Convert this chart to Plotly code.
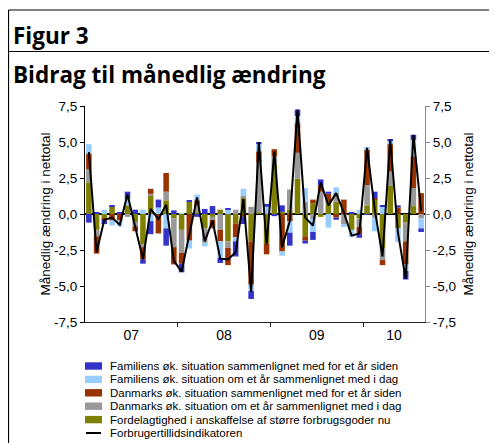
import plotly.graph_objects as go

# ---------------- data ----------------
months = [f"{y}-{m:02d}" for y in range(2007, 2011) for m in range(1, 13)][:44]
year_labels = ["07", "08", "09", "10"]

series_names = [
    "Familiens øk. situation sammenlignet med for et år siden",
    "Familiens øk. situation om et år sammenlignet med i dag",
    "Danmarks øk. situation sammenlignet med for et år siden",
    "Danmarks øk. situation om et år sammenlignet med i dag",
    "Fordelagtighed i anskaffelse af større forbrugsgoder nu",
]
line_name = "Forbrugertillidsindikatoren"

fam_past = [-0.6, 0.1, -0.3, 0.1, 0.1, 0.5, 0.3, -0.3, -0.9, 0.55, -1.2, 0.25,
            -0.6, 0.1, -0.2, 0.35, 0.55, -0.35, 0.1, -1.05, -0.5, -0.55, 0.15, 0.2,
            -0.15, 0.45, -0.9, 0.45, -0.2, -0.55, 0.4, 0.15, -0.15, 0.0, 0.1, -0.25,
            -0.05, 0.45, 0.1, 0.1, 0.15, -0.6, 0.35, -0.25]
fam_future = [0.65, 0.0, 0.3, -0.35, -0.4, 0.45, 0.0, 0.3, -0.5, 0.45, -1.0, 0.0,
              0.05, -0.55, 0.4, -0.25, 0.0, -1.15, 0.3, -0.3, 0.5, -0.45, 0.5, 0.5,
              0.0, -0.3, -0.8, 0.5, 0.95, -0.9, 0.0, -0.95, 0.4, -0.2, -0.5, 0.3,
              0.2, -0.9, 0.5, 0.25, -0.95, -0.45, 1.15, -0.7]
dk_past = [1.1, -1.2, -0.1, -0.45, -0.45, 0.0, -0.35, -0.85, 0.35, -1.35, 1.3, -1.2,
           -0.75, -1.85, 0.35, 0.0, -0.6, -0.8, -1.2, -0.95, -0.2, -3.0, 0.75, -0.75,
           0.5, -2.6, -0.5, 2.05, -0.3, 0.25, 0.45, 0.6, -0.25, 1.0, 0.0, -0.5,
           2.45, 0.1, -0.35, 1.9, 0.45, -1.6, 2.2, 1.45]
dk_future = [0.9, -0.45, 0.0, 0.0, 0.0, -0.2, -0.3, -0.2, 0.15, 0.0, 0.6, -2.0,
             -1.6, 0.0, 0.5, -1.0, -0.2, -1.1, -0.45, 0.3, 0.15, 0.5, 3.5, 0.0,
             0.6, 0.0, 1.4, 1.8, 0.85, -0.35, 1.55, 0.1, 0.6, -0.7, 0.0, -0.6,
             1.4, -0.3, -0.8, 1.0, 0.0, -1.3, 1.25, -0.3]
purchase = [2.2, -1.1, -0.3, 0.5, 0.0, 0.6, -0.55, -2.1, 1.25, 0.0, 0.95, -0.3,
            -1.1, 0.85, 0.1, -1.0, -0.2, 0.3, -1.9, -0.65, 1.1, -1.9, 0.1, -2.05,
            3.4, 0.15, 0.3, 2.45, -1.55, 0.75, -0.2, 0.7, 0.85, 0.0, -1.1, -0.3,
            0.6, 1.0, -2.4, 1.95, -1.0, -0.6, 0.55, 0.0]
indicator = [4.3, -2.65, -0.4, -0.25, -0.75, 1.35, -0.9, -3.15, 0.35, -0.35, 0.65, -3.25,
             -4.0, -1.45, 1.15, -1.9, -0.45, -3.1, -3.15, -2.65, 1.05, -5.4, 5.0, -2.1,
             4.35, -2.3, -0.5, 7.25, -0.25, -0.8, 2.2, 0.6, 1.45, 0.1, -1.5, -1.35,
             4.6, 0.3, -2.95, 5.15, -1.3, -4.5, 5.5, 0.2]

y_tickvals = [-7.5, -5.0, -2.5, 0.0, 2.5, 5.0, 7.5]
y_ticktext = ["-7,5", "-5,0", "-2,5", "0,0", "2,5", "5,0", "7,5"]

colors = ["#3333cc", "#99ccff", "#993300", "#999999", "#808000"]

# ---------------- figure ----------------
# the page body adds an 8px offset, so the figure is drawn 8px smaller and
# every target position (in screenshot pixels) is shifted by OFF
OFF = 8
SW, SH = 497, 443
W, H = SW - OFF, SH - OFF
PL, PR, PT, PB = 85, 425, 106, 322  # plot area in screenshot pixels
ML, MR, MT, MB = PL - OFF, SW - PR, PT - OFF, SH - PB
PW, PH = W - ML - MR, H - MT - MB


def px_x(p):
    return (p - PL) / PW


def px_y(p):
    return (PB - p) / PH


x = list(range(len(months)))
years = [m[:4] for m in months]
uniq_years = sorted(set(years))
year_centers = []
year_bounds = []
for yv in uniq_years:
    idx = [i for i, v in enumerate(years) if v == yv]
    year_centers.append((idx[0] + idx[-1]) / 2)
    if idx[0] > 0:
        year_bounds.append(idx[0] - 0.5)

fig = go.Figure()
series_vals = [fam_past, fam_future, dk_past, dk_future, purchase]
for k in [4, 3, 2, 1, 0]:
    fig.add_trace(go.Bar(x=x, y=series_vals[k], name=series_names[k],
                         marker=dict(color=colors[k], line=dict(width=0)),
                         width=0.72, showlegend=False))
fig.add_trace(go.Scatter(x=x, y=indicator, name=line_name, mode="lines",
                         line=dict(color="black", width=2), yaxis="y2",
                         showlegend=False))

tickfont = dict(family="Liberation Sans, Arial, sans-serif", size=13.5, color="black")
titlefont = dict(family="Liberation Sans, Arial, sans-serif", size=13.5, color="black")

fig.update_layout(
    width=W, height=H,
    margin=dict(l=ML, r=MR, t=MT, b=MB),
    paper_bgcolor="white", plot_bgcolor="white",
    barmode="relative",
    xaxis=dict(range=[-0.5, len(months) - 0.5], tickmode="array",
               tickvals=year_centers, ticktext=year_labels, ticks="",
               showline=True, linecolor="#222", linewidth=1, showgrid=False,
               zeroline=False, tickfont=dict(family=tickfont["family"], size=14, color="black"),
               minor=dict(tickmode="array", tickvals=year_bounds, ticks="outside",
                          ticklen=4, tickcolor="#222", tickwidth=1, showgrid=False)),
    yaxis=dict(range=[-7.5, 7.5], tickmode="array", tickvals=y_tickvals,
               ticktext=y_ticktext, ticks="outside", ticklen=4, tickcolor="black",
               showline=True, linecolor="black", linewidth=1, showgrid=False,
               zeroline=True, zerolinecolor="black", zerolinewidth=1.5,
               tickfont=tickfont,
               title=dict(text="Månedlig ændring i nettotal", font=titlefont, standoff=0)),
    yaxis2=dict(range=[-7.5, 7.5], overlaying="y", side="right", tickmode="array",
                tickvals=y_tickvals, ticktext=y_ticktext, ticks="outside", ticklen=4,
                tickcolor="#888", showline=True, linecolor="#888", linewidth=1,
                showgrid=False, zeroline=False, tickfont=tickfont,
                title=dict(text="Månedlig ændring i nettotal", font=titlefont, standoff=8)),
)

# frame lines
fig.add_shape(type="line", xref="paper", yref="paper", x0=px_x(8.5), x1=px_x(SW),
              y0=px_y(10), y1=px_y(10), line=dict(color="black", width=1.2))
fig.add_shape(type="line", xref="paper", yref="paper", x0=px_x(8.5), x1=px_x(SW),
              y0=px_y(51.5), y1=px_y(51.5), line=dict(color="black", width=1.2))
fig.add_shape(type="line", xref="paper", yref="paper", x0=px_x(8.5), x1=px_x(8.5),
              y0=px_y(10), y1=px_y(SH), line=dict(color="black", width=1.2))

headfont = dict(family="Open Sans, sans-serif", size=22.5, color="black")
fig.add_annotation(text="<b>Figur 3</b>", xref="paper", yref="paper", x=px_x(11),
                   y=px_y(36), xanchor="left", yanchor="middle", showarrow=False,
                   font=headfont)
fig.add_annotation(text="<b>Bidrag til månedlig ændring</b>", xref="paper", yref="paper",
                   x=px_x(11), y=px_y(74), xanchor="left", yanchor="middle",
                   showarrow=False, font=headfont)

# manual legend
legfont = dict(family="Liberation Sans, Arial, sans-serif", size=11.5, color="black")
row0, drow = 366, 13.4
for k, (nm, col) in enumerate(zip(series_names, colors)):
    yc = row0 + drow * k
    fig.add_shape(type="rect", xref="paper", yref="paper", x0=px_x(85), x1=px_x(102),
                  y0=px_y(yc - 3.7), y1=px_y(yc + 3.7), fillcolor=col, line=dict(width=0))
    fig.add_annotation(text=nm, xref="paper", yref="paper", x=px_x(108), y=px_y(yc),
                       xanchor="left", yanchor="middle", showarrow=False, font=legfont)
yc = row0 + drow * len(series_names)
fig.add_shape(type="line", xref="paper", yref="paper", x0=px_x(86), x1=px_x(101),
              y0=px_y(yc), y1=px_y(yc), line=dict(color="black", width=2))
fig.add_annotation(text=line_name, xref="paper", yref="paper", x=px_x(108), y=px_y(yc),
                   xanchor="left", yanchor="middle", showarrow=False, font=legfont)

fig.write_html("out.html")
